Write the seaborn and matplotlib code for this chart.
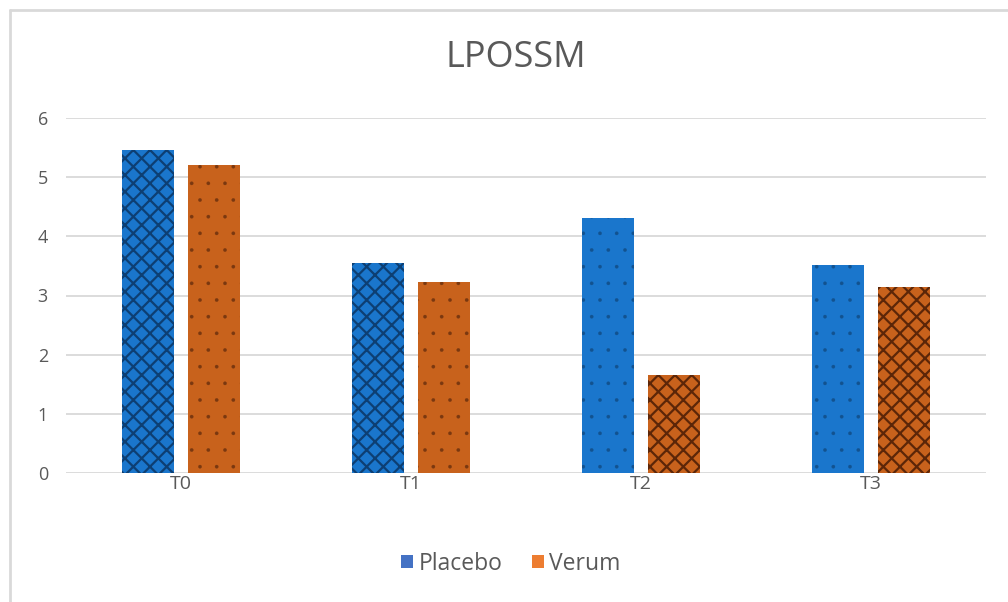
import matplotlib
matplotlib.use("Agg")
import matplotlib.pyplot as plt
from matplotlib.patches import Patch
from matplotlib.lines import Line2D
import seaborn as sns
import pandas as pd

# Data
timepoints = ["T0", "T1", "T2", "T3"]
placebo = [5.46, 3.55, 4.31, 3.51]
verum = [5.20, 3.23, 1.66, 3.14]
groups = ["Placebo", "Verum"]

# Fill patterns per bar
placebo_hatch = ["xx", "xx", ".", "."]
verum_hatch = [".", ".", "xx", "xx"]

bar_fill = {"Placebo": "#1a76cc", "Verum": "#c8621c"}
cross_ink = {"Placebo": "#0d3f73", "Verum": "#5c2608"}
dot_ink = {"Placebo": "#12528f", "Verum": "#7a3810"}
legend_col = {"Placebo": "#4472C4", "Verum": "#ED7D31"}
text_col = "#595959"
grid_col = "#d9d9d9"

df = pd.DataFrame({
    "time": timepoints * 2,
    "value": placebo + verum,
    "group": [groups[0]] * 4 + [groups[1]] * 4,
})

sns.set_theme(style="white")
plt.rcParams["font.family"] = ["Open Sans", "DejaVu Sans"]
plt.rcParams["hatch.linewidth"] = 1.6

fig = plt.figure(figsize=(10.08, 6.02), dpi=100)
ax = fig.add_axes([66 / 1008, 129 / 602, 920 / 1008, 355 / 602])

sns.barplot(data=df, x="time", y="value", hue="group", hue_order=groups,
            palette=bar_fill, width=0.574, gap=0.226, ax=ax, legend=False,
            saturation=1)

for cont, grp, hatches in zip(ax.containers, groups, [placebo_hatch, verum_hatch]):
    for bar, h in zip(cont, hatches):
        bar.set_hatch(h)
        bar.set_linewidth(0)
        if "x" in h:
            bar.set_edgecolor(cross_ink[grp])
        else:
            bar.set_edgecolor(dot_ink[grp])
            if hasattr(bar, "set_hatch_linewidth"):
                bar.set_hatch_linewidth(0.2)
            else:
                bar._hatch_linewidth = 0.2

ax.set_ylim(0, 6)
ax.set_xlim(-0.5, 3.5)
ax.set_yticks(range(0, 7))
ax.yaxis.grid(True, color=grid_col, linewidth=1.3)
ax.set_axisbelow(True)
for s in ax.spines.values():
    s.set_visible(False)
ax.tick_params(axis="both", length=0, labelcolor=text_col, labelsize=13)
ax.tick_params(axis="x", labelsize=14, pad=1.5)
ax.tick_params(axis="y", pad=13)
ax.set_xlabel("")
ax.set_ylabel("")

fig.text(0.512, 1 - 58 / 602, "LPOSSM", ha="center", va="center",
         fontsize=26, color=text_col)

handles = [Patch(facecolor=legend_col[g], edgecolor="none", label=g) for g in groups]
fig.legend(handles=handles, loc="center", bbox_to_anchor=(0.507, 1 - 564 / 602),
           ncol=2, frameon=False, fontsize=16.5, handlelength=0.5, handleheight=0.5,
           handletextpad=0.25, columnspacing=1.3, labelcolor=text_col)

# Chart-area border (top and left edges)
fig.add_artist(Line2D([10 / 1008, 1], [1 - 10 / 602] * 2, color=grid_col,
                      linewidth=2, transform=fig.transFigure))
fig.add_artist(Line2D([10 / 1008] * 2, [0, 1 - 10 / 602], color=grid_col,
                      linewidth=2, transform=fig.transFigure))

fig.savefig("out.png", dpi=100, facecolor="white")
